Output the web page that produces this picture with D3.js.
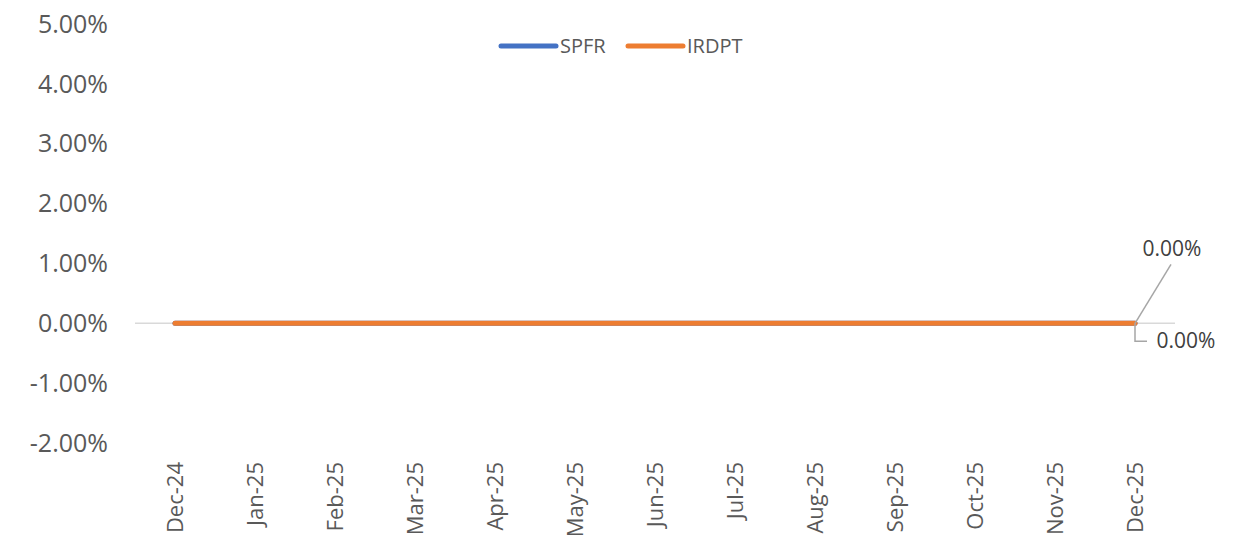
<!DOCTYPE html>
<html>
<head>
<meta charset="utf-8">
<script src="https://cdn.jsdelivr.net/npm/d3@7"></script>
<style>
  body { margin: 0; background: #fff; }
  svg text { font-family: "Open Sans", sans-serif; }
</style>
</head>
<body>
<svg id="chart"></svg>
<script>
const months = ['Dec-24', 'Jan-25', 'Feb-25', 'Mar-25', 'Apr-25', 'May-25', 'Jun-25',
  'Jul-25', 'Aug-25', 'Sep-25', 'Oct-25', 'Nov-25', 'Dec-25'];
const spfr = [0, 0, 0, 0, 0, 0, 0, 0, 0, 0, 0, 0, 0];
const irdpt = [0, 0, 0, 0, 0, 0, 0, 0, 0, 0, 0, 0, 0];
const yTicks = [-0.02, -0.01, 0, 0.01, 0.02, 0.03, 0.04, 0.05];

const width = 1241, height = 553;
const svg = d3.select('#chart').attr('width', width).attr('height', height);

const x = d3.scaleBand().domain(months).range([135, 1175]);
const y = d3.scaleLinear().domain([-0.02, 0.05]).range([443, 24]);
const fmt = d3.formatLocale({ decimal: '.', thousands: ',', grouping: [3], currency: ['', ''], minus: '-' }).format('.2%');

// y tick labels (no axis line, no gridlines)
svg.append('g').selectAll('text').data(yTicks).enter().append('text')
  .attr('x', 108).attr('y', d => y(d)).attr('dy', '0.35em')
  .attr('text-anchor', 'end').attr('fill', '#595959').style('font-size', '25px')
  .text(fmt);

// zero line
svg.append('line').attr('x1', 135).attr('x2', 1175)
  .attr('y1', y(0)).attr('y2', y(0)).attr('stroke', '#d9d9d9').attr('stroke-width', 1.5);

// x labels rotated
svg.append('g').selectAll('text').data(months).enter().append('text')
  .attr('transform', d => `translate(${x(d) + x.bandwidth() / 2},462) rotate(-90)`)
  .attr('dy', '0.35em').attr('text-anchor', 'end').attr('fill', '#595959')
  .style('font-size', '22px').text(d => d);

const line = d3.line().x((d, i) => x(months[i]) + x.bandwidth() / 2).y(d => y(d));
const series = [
  { name: 'SPFR', values: spfr, color: '#4472c4' },
  { name: 'IRDPT', values: irdpt, color: '#ed7d31' }
];
series.forEach(s => {
  svg.append('path').datum(s.values).attr('d', line).attr('fill', 'none')
    .attr('stroke', s.color).attr('stroke-width', 5).attr('stroke-linecap', 'round');
});

// data labels for last point with leader lines
const lx = x(months[12]) + x.bandwidth() / 2;
const ly = y(spfr[12]);
svg.append('path').attr('d', `M${lx},${ly} L${lx + 36},${ly - 59}`)
  .attr('fill', 'none').attr('stroke', '#a6a6a6').attr('stroke-width', 1.5);
svg.append('text').attr('x', 1172).attr('y', 249).attr('dy', '0.35em')
  .attr('text-anchor', 'middle').attr('fill', '#404040').style('font-size', '21px')
  .text(fmt(spfr[12]));
svg.append('path').attr('d', `M${lx},${ly} L${lx},${ly + 18} L${lx + 12},${ly + 18}`)
  .attr('fill', 'none').attr('stroke', '#a6a6a6').attr('stroke-width', 1.5);
svg.append('text').attr('x', 1186).attr('y', 341).attr('dy', '0.35em')
  .attr('text-anchor', 'middle').attr('fill', '#404040').style('font-size', '21px')
  .text(fmt(irdpt[12]));

// legend
const legend = svg.append('g');
const legendX = [501, 628];
series.forEach((s, i) => {
  const g = legend.append('g').attr('transform', `translate(${legendX[i]},46)`);
  g.append('line').attr('x1', 0).attr('x2', 55).attr('stroke', s.color)
    .attr('stroke-width', 5).attr('stroke-linecap', 'round');
  g.append('text').attr('x', 59).attr('dy', '0.35em').attr('fill', '#595959')
    .style('font-size', '20px').text(s.name);
});
</script>
</body>
</html>
